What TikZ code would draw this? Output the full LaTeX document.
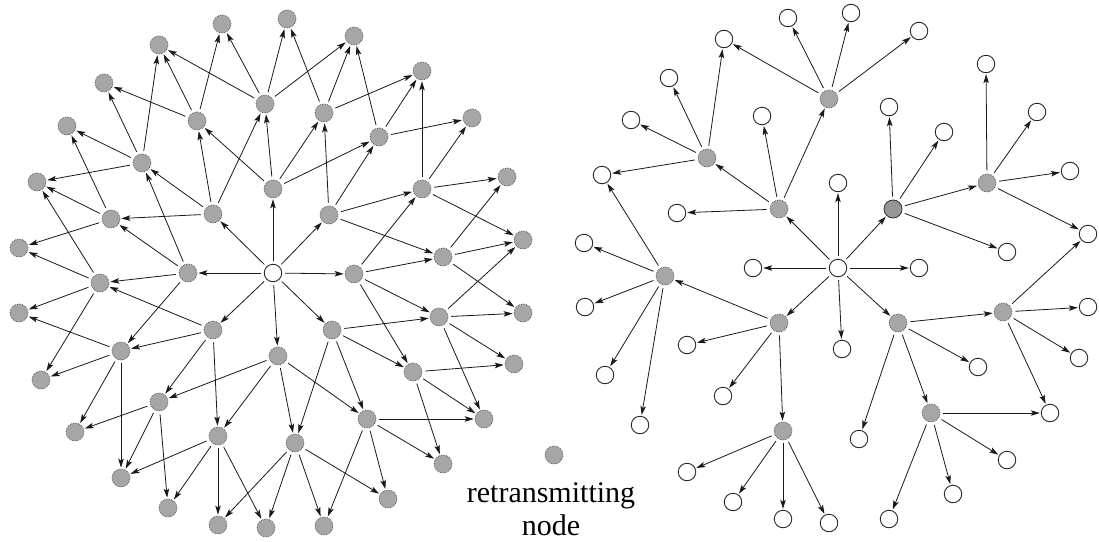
\documentclass[tikz,border=0pt]{standalone}
\usepackage{fontspec}
\setmainfont{Liberation Serif}
\usetikzlibrary{arrows.meta}
\definecolor{relayfill}{RGB}{166,166,166}
\definecolor{relayline}{RGB}{80,80,80}
\definecolor{srcfill}{RGB}{150,150,150}
\definecolor{srcline}{RGB}{60,60,60}
\tikzset{
  relay/.style={circle, minimum size=18pt, inner sep=0pt, fill=relayfill,
    draw=relayline, line width=0.7pt, densely dotted},
  plain/.style={circle, minimum size=17.5pt, inner sep=0pt, fill=white,
    draw=black!85, line width=0.9pt},
  source/.style={circle, minimum size=18pt, inner sep=0pt, fill=srcfill,
    draw=srcline, line width=0.9pt},
  arr/.style={-{Stealth[length=9pt,width=5.5pt,inset=2pt]}, line width=0.8pt,
    black!90, shorten <=3pt, shorten >=1pt},
  keytext/.style={inner sep=0pt, anchor=base, font=\fontsize{30}{33}\selectfont}
}
\begin{document}
\begin{tikzpicture}[x=1pt, y=-1pt]
\useasboundingbox (0,0) rectangle (1099,541);

% ---------- left: blind flooding ----------
\node[plain] (lc) at (273,273) {};
\foreach \n/\x/\y in {
  a1/273/189, a2/329/215, a3/354/274, a4/332/330, a5/278/356,
  a6/213/330, a7/188/273, a8/213/214,
  b1/197/121, b2/265/104, b3/324/113, b4/379/137, b5/422/189,
  b6/443/257, b7/439/317, b8/413/372, b9/367/419, b10/295/443,
  b11/218/436, b12/159/402, b13/121/351, b14/100/283, b15/111/219,
  b16/142/163,
  o1/222/24, o2/287/19, o3/354/36, o4/422/71, o5/472/118,
  o6/507/177, o7/523/240, o8/523/313, o9/514/364, o10/484/419,
  o11/443/464, o12/388/499, o13/324/526, o14/266/528, o15/218/525,
  o16/168/508, o17/121/478, o18/75/432, o19/41/380, o20/19/313,
  o21/19/248, o22/37/182, o23/67/126, o24/104/83, o25/159/45}
  \node[relay] (l\n) at (\x,\y) {};

\foreach \s/\t in {
  c/a1, c/a2, c/a3, c/a4, c/a5, c/a6, c/a7, c/a8,
  a1/b1, a1/b2, a1/b3, a1/b4,
  a2/b3, a2/b4, a2/b5, a2/b6,
  a3/b5, a3/b6, a3/b7, a3/b8,
  a4/b7, a4/b8, a4/b9, a4/b10,
  a5/b9, a5/b10, a5/b11, a5/b12,
  a6/b14, a6/b13, a6/b12, a6/b11,
  a7/b15, a7/b16, a7/b14, a7/b13,
  a8/b1, a8/b2, a8/b16, a8/b15,
  b1/o24, b1/o25, b1/o1,
  b2/o25, b2/o1, b2/o2, b2/o3,
  b3/o2, b3/o3, b3/o4,
  b4/o3, b4/o4, b4/o5,
  b5/o4, b5/o5, b5/o6, b5/o7,
  b6/o6, b6/o7, b6/o8,
  b7/o7, b7/o8, b7/o9, b7/o10,
  b8/o9, b8/o10, b8/o11,
  b9/o10, b9/o11, b9/o12, b9/o13,
  b10/o12, b10/o13, b10/o14, b10/o15,
  b11/o17, b11/o16, b11/o15, b11/o14,
  b12/o18, b12/o17, b12/o16,
  b13/o20, b13/o19, b13/o18, b13/o17,
  b14/o20, b14/o19, b14/o22, b14/o21,
  b15/o22, b15/o21, b15/o23,
  b16/o22, b16/o23, b16/o24, b16/o25}
  \draw[arr] (l\s) -- (l\t);

% ---------- right: selective retransmission ----------
\node[plain] (rc) at (838,268) {};
\node[source] (rd) at (893,209) {};
\foreach \n/\x/\y in {
  g1/779/209, g2/707/158, g3/829/99, g4/987/183, g5/898/323,
  g6/1003/312, g7/779/323, g8/931/413, g9/665/276, g10/783/431}
  \node[relay] (r\n) at (\x,\y) {};
\foreach \n/\x/\y in {
  w1/753/268, w2/838/183, w3/919/268, w4/842/349, w5/677/213,
  w6/762/116, w7/602/175, w8/631/120, w9/669/78, w10/724/39,
  w11/788/18, w12/851/13, w13/919/31, w14/889/107, w15/944/132,
  w16/1007/252, w17/986/64, w18/1037/112, w19/1070/171, w20/1088/234,
  w21/978/367, w22/859/439, w23/1088/307, w24/1079/358, w25/1050/413,
  w26/1007/460, w27/953/494, w28/889/519, w29/687/345, w30/723/396,
  w31/584/243, w32/585/307, w33/605/375, w34/640/425, w35/687/472,
  w36/733/502, w37/783/519, w38/829/523}
  \node[plain] (r\n) at (\x,\y) {};

\foreach \s/\t in {
  c/w1, c/g1, c/w2, c/d, c/w3, c/g5, c/w4, c/g7,
  g1/g2, g1/w5, g1/w6, g1/g3,
  g2/w7, g2/w8, g2/w9, g2/w10,
  g3/w10, g3/w11, g3/w12, g3/w13,
  d/w14, d/w15, d/g4, d/w16,
  g4/w17, g4/w18, g4/w19, g4/w20,
  g5/g6, g5/w21, g5/g8, g5/w22,
  g6/w20, g6/w23, g6/w24, g6/w25,
  g8/w25, g8/w26, g8/w27, g8/w28,
  g7/g9, g7/w29, g7/w30, g7/g10,
  g9/w31, g9/w7, g9/w32, g9/w33, g9/w34,
  g10/w35, g10/w36, g10/w37, g10/w38}
  \draw[arr] (r\s) -- (r\t);

% ---------- key ----------
\node[relay] (key) at (554,455) {};
\node[keytext] (keyline1) at (551,502) {retransmitting};
\node[keytext] (keyline2) at (551,535) {node};
\end{tikzpicture}
\end{document}
